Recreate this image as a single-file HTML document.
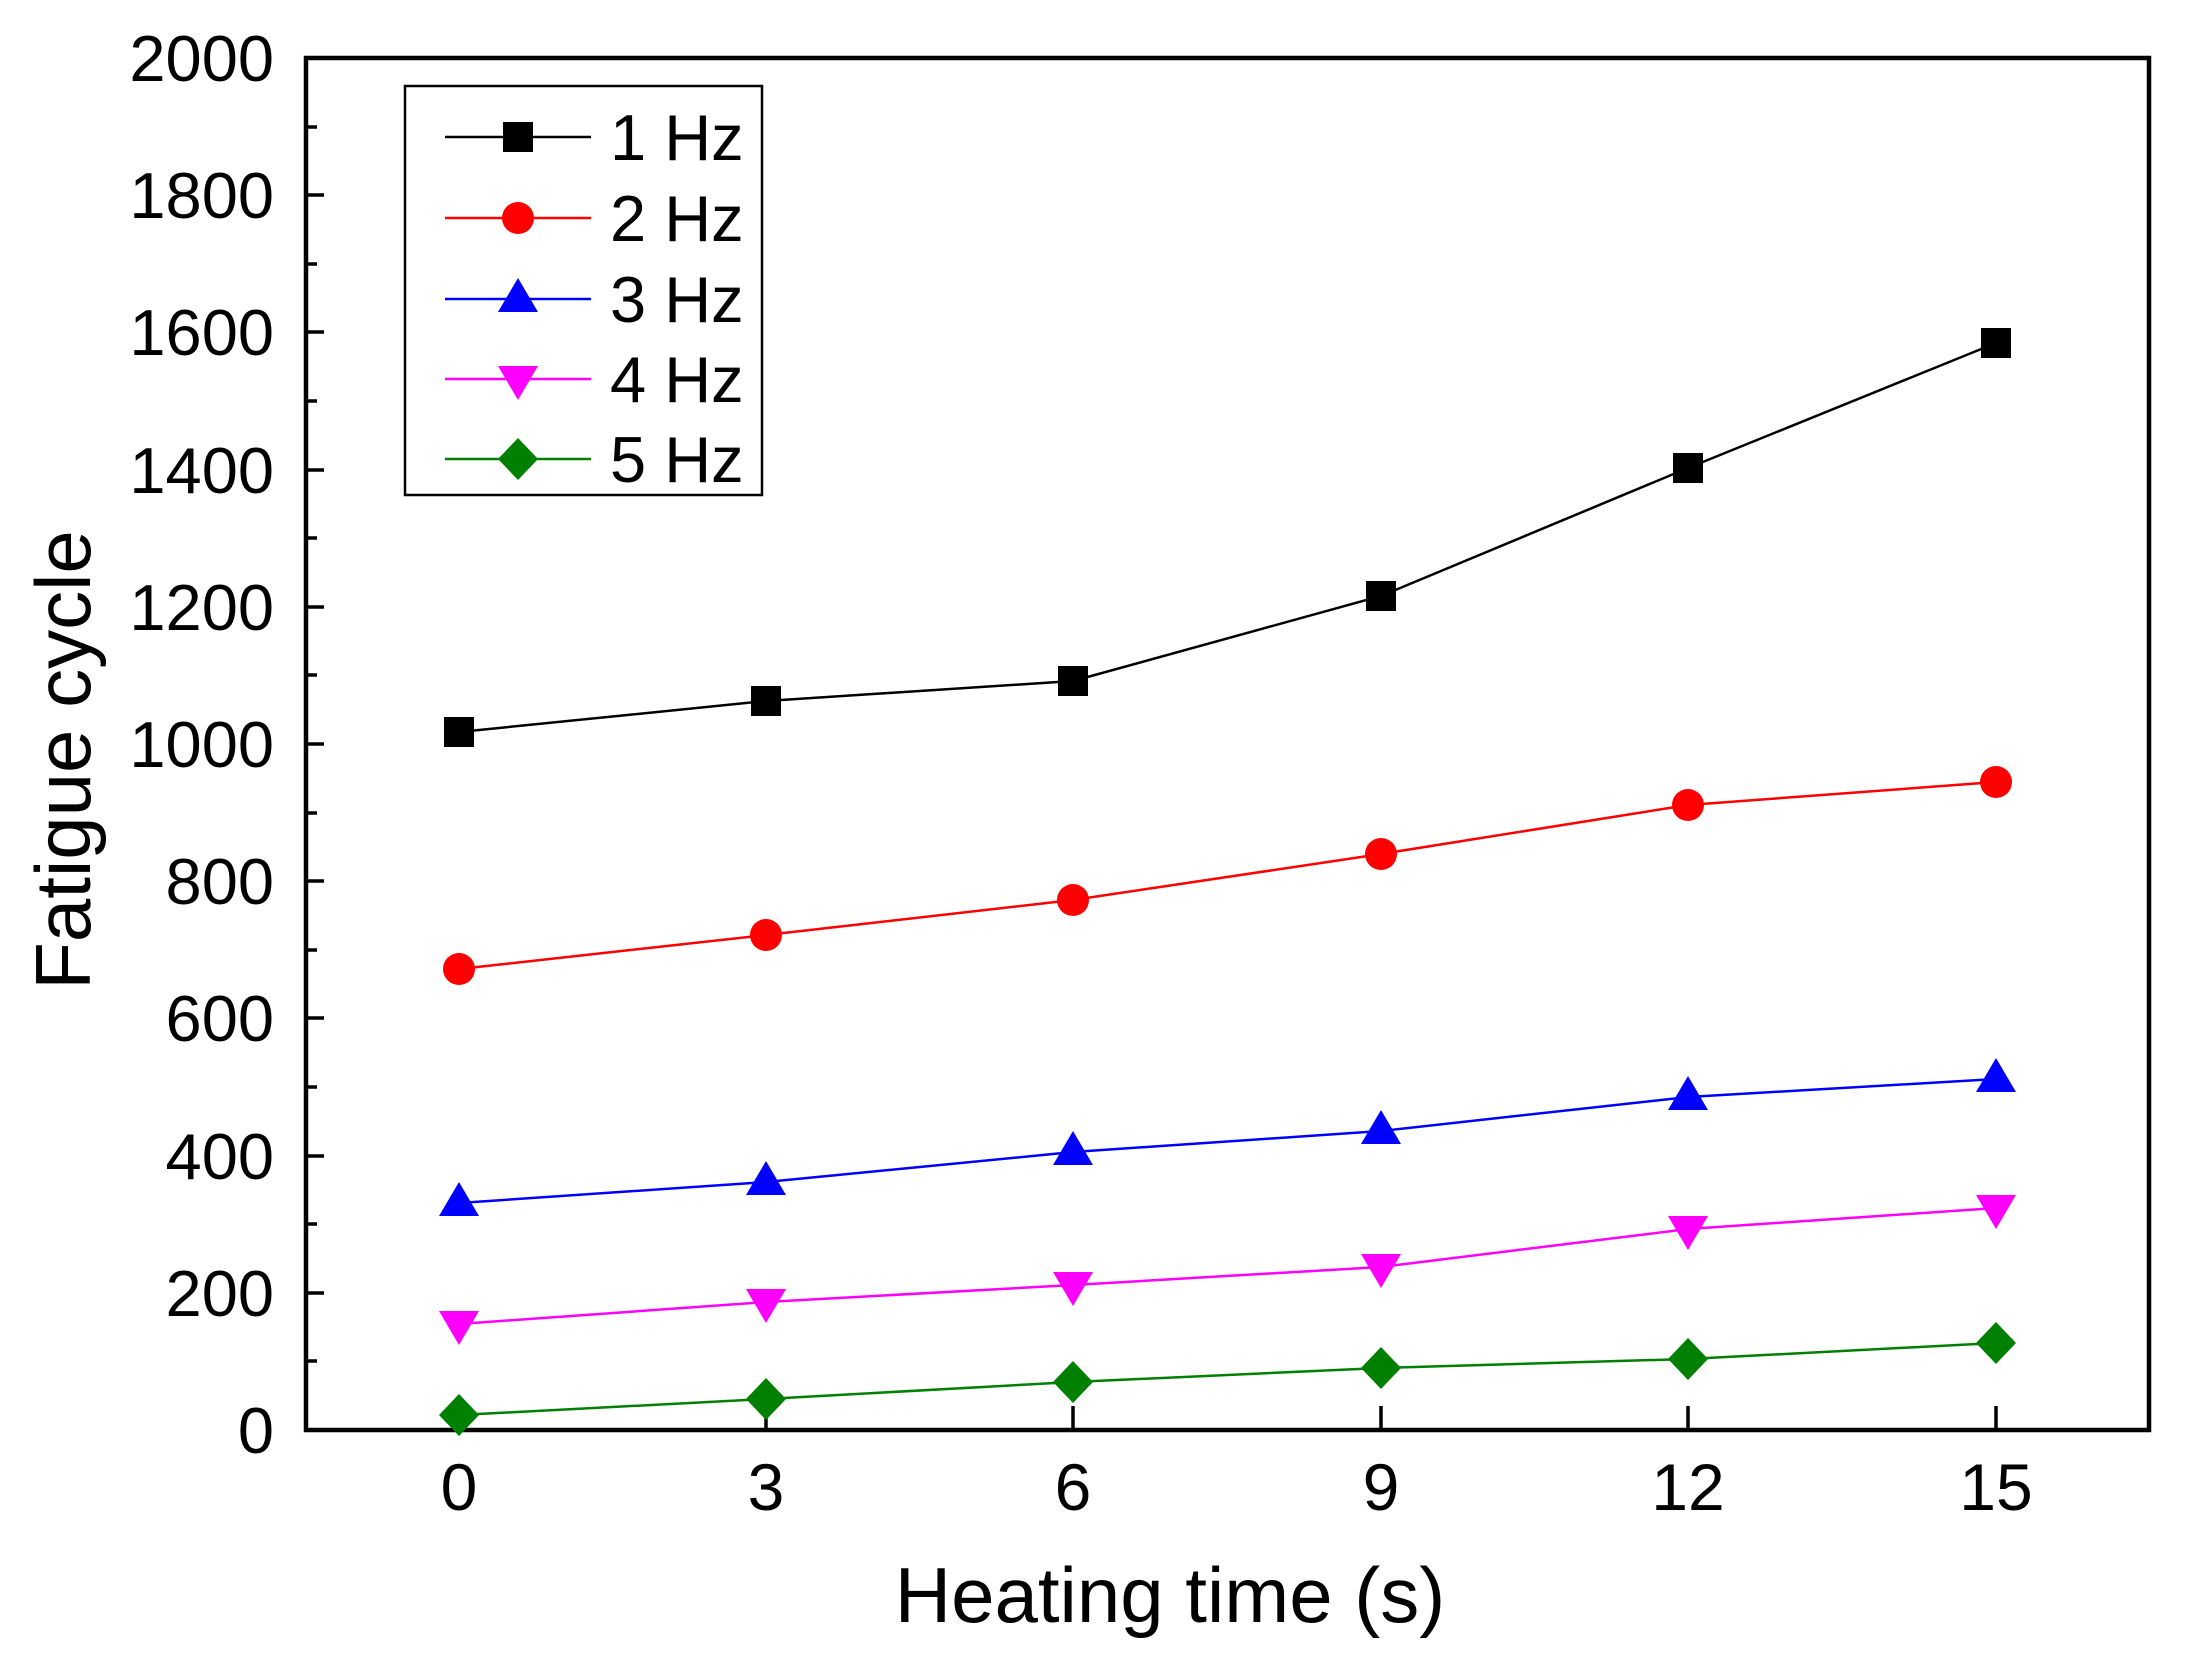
<!DOCTYPE html>
<html><head><meta charset="utf-8"><style>html,body{margin:0;padding:0;background:#fff}svg{display:block}</style></head><body>
<svg width="2193" height="1665" viewBox="0 0 2193 1665" xmlns="http://www.w3.org/2000/svg" font-family="Liberation Sans, Arial, sans-serif">
<defs>
<rect id="sq" x="-15" y="-15" width="30" height="30" fill="#000"/>
<circle id="ci" r="16" fill="#ff0000"/>
<polygon id="tu" points="0,-21 20,13 -20,13" fill="#0000ff"/>
<polygon id="td" points="0,21 20,-13 -20,-13" fill="#ff00ff"/>
<polygon id="di" points="0,-21 20,0 0,21 -20,0" fill="#008000"/>
</defs>
<g stroke="#000" stroke-width="3.5" fill="none">
<path d="M306,195 h18 M306,332 h18 M306,470 h18 M306,607 h18 M306,744 h18 M306,881 h18 M306,1018 h18 M306,1156 h18 M306,1293 h18"/>
<path d="M306,127 h11 M306,264 h11 M306,401 h11 M306,538 h11 M306,675 h11 M306,813 h11 M306,950 h11 M306,1087 h11 M306,1224 h11 M306,1361 h11"/>
<path d="M459,1430 v-24 M766,1430 v-24 M1073,1430 v-24 M1381,1430 v-24 M1688,1430 v-24 M1996,1430 v-24"/>
</g>
<rect x="306" y="58" width="1843" height="1372" fill="none" stroke="#000" stroke-width="4.5"/>
<g font-size="65" text-anchor="end" fill="#000">
<text x="274" y="81">2000</text><text x="274" y="218">1800</text><text x="274" y="355">1600</text><text x="274" y="493">1400</text><text x="274" y="630">1200</text><text x="274" y="767">1000</text><text x="274" y="904">800</text><text x="274" y="1041">600</text><text x="274" y="1179">400</text><text x="274" y="1316">200</text><text x="274" y="1453">0</text>
</g>
<g font-size="66" text-anchor="middle" fill="#000">
<text x="459" y="1510">0</text><text x="766" y="1510">3</text><text x="1073" y="1510">6</text><text x="1381" y="1510">9</text><text x="1688" y="1510">12</text><text x="1996" y="1510">15</text>
</g>
<text x="1170" y="1622" font-size="78" text-anchor="middle">Heating time (s)</text>
<text transform="translate(90,760) rotate(-90)" font-size="78" text-anchor="middle">Fatigue cycle</text>
<polyline fill="none" stroke="#000" stroke-width="2.5" points="459,732 766,701 1073,681 1381,596 1688,468 1996,343"/>
<polyline fill="none" stroke="#ff0000" stroke-width="2.5" points="459,969 766,935 1073,900 1381,854 1688,805 1996,782"/>
<polyline fill="none" stroke="#0000ff" stroke-width="2.5" points="459,1203 766,1182 1073,1152 1381,1131 1688,1097 1996,1079"/>
<polyline fill="none" stroke="#ff00ff" stroke-width="2.5" points="459,1324 766,1302 1073,1285 1381,1267 1688,1229 1996,1208"/>
<polyline fill="none" stroke="#008000" stroke-width="2.5" points="459,1415 766,1399 1073,1382 1381,1368 1688,1359 1996,1343"/>
<use href="#sq" x="459" y="732"/><use href="#sq" x="766" y="701"/><use href="#sq" x="1073" y="681"/><use href="#sq" x="1381" y="596"/><use href="#sq" x="1688" y="468"/><use href="#sq" x="1996" y="343"/>
<use href="#ci" x="459" y="969"/><use href="#ci" x="766" y="935"/><use href="#ci" x="1073" y="900"/><use href="#ci" x="1381" y="854"/><use href="#ci" x="1688" y="805"/><use href="#ci" x="1996" y="782"/>
<use href="#tu" x="459" y="1203"/><use href="#tu" x="766" y="1182"/><use href="#tu" x="1073" y="1152"/><use href="#tu" x="1381" y="1131"/><use href="#tu" x="1688" y="1097"/><use href="#tu" x="1996" y="1079"/>
<use href="#td" x="459" y="1324"/><use href="#td" x="766" y="1302"/><use href="#td" x="1073" y="1285"/><use href="#td" x="1381" y="1267"/><use href="#td" x="1688" y="1229"/><use href="#td" x="1996" y="1208"/>
<use href="#di" x="459" y="1415"/><use href="#di" x="766" y="1399"/><use href="#di" x="1073" y="1382"/><use href="#di" x="1381" y="1368"/><use href="#di" x="1688" y="1359"/><use href="#di" x="1996" y="1343"/>
<rect x="405" y="86" width="357" height="409" fill="#fff" stroke="#000" stroke-width="2.5"/>
<line x1="445" y1="137" x2="591" y2="137" stroke="#000" stroke-width="2.5"/>
<line x1="445" y1="218" x2="591" y2="218" stroke="#ff0000" stroke-width="2.5"/>
<line x1="445" y1="299" x2="591" y2="299" stroke="#0000ff" stroke-width="2.5"/>
<line x1="445" y1="379" x2="591" y2="379" stroke="#ff00ff" stroke-width="2.5"/>
<line x1="445" y1="459" x2="591" y2="459" stroke="#008000" stroke-width="2.5"/>
<use href="#sq" x="518" y="137"/><use href="#ci" x="518" y="218"/><use href="#tu" x="518" y="299"/><use href="#td" x="518" y="379"/><use href="#di" x="518" y="459"/>
<g font-size="65" fill="#000">
<text x="610" y="160">1 Hz</text><text x="610" y="241">2 Hz</text><text x="610" y="322">3 Hz</text><text x="610" y="402">4 Hz</text><text x="610" y="482">5 Hz</text>
</g>
</svg>
</body></html>
